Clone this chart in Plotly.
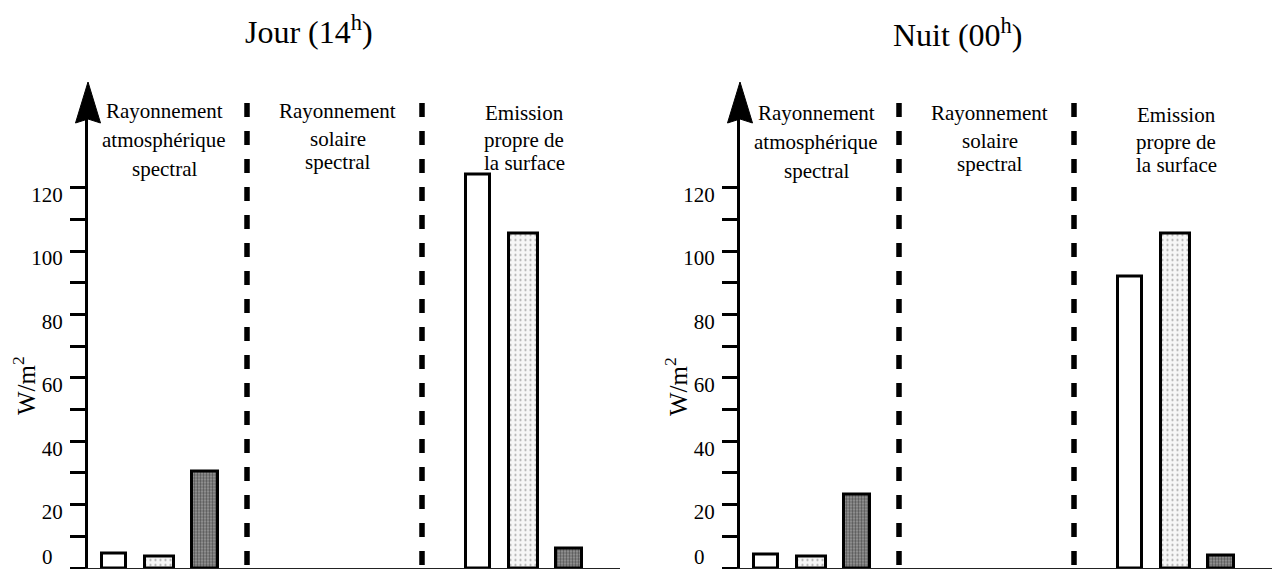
import plotly.graph_objects as go

W, H = 1282, 569

# bar slots: 3 bars per group, the solar group (slots 3..7) is empty
slots_atm = [0, 1, 2]
slots_surf = [8, 9, 10]
kinds = ["blanc", "clair", "sombre"]

day_atm = [4.5, 3.5, 30.5]
day_surf = [124, 105.5, 6.3]
night_atm = [4.4, 3.6, 23.3]
night_surf = [92, 105.5, 4.1]

titles = ["Jour (14<sup>h</sup>)", "Nuit (00<sup>h</sup>)"]
group_labels = [["Rayonnement", "atmosphérique", "spectral"],
                ["Rayonnement", "solaire", "spectral"],
                ["Emission", "propre de", "la surface"]]
y_tickvals = list(range(0, 130, 10))
y_ticktext = ["" if (v % 20 or v == 0) else str(v) for v in y_tickvals]
y_title = "W/m<sup>2</sup>"

SERIF = "Liberation Serif"


def px(x):
    return x / W


def py(y):
    return 1 - y / H


styles = {
    "blanc": dict(color="white"),
    "clair": dict(color="#f0f0f0",
                  pattern=dict(shape=".", fgcolor="#a0a0a0", bgcolor="#f6f6f6",
                               size=5, solidity=0.15, fillmode="replace")),
    "sombre": dict(color="#8a8a8a",
                   pattern=dict(shape=".", fgcolor="#555555", bgcolor="#a0a0a0",
                                size=3, solidity=0.5, fillmode="replace")),
}
widths = {"blanc": 0.53, "clair": 0.63, "sombre": 0.56}

panels = [
    dict(atm=day_atm, surf=day_surf, x0=88, xa="x", ya="y", title_xy=(309, 30), dy=0),
    dict(atm=night_atm, surf=night_surf, x0=740, xa="x2", ya="y2", title_xy=(958, 33), dy=2),
]

fig = go.Figure()
annotations = []
shapes = []

SLOT0, SLOTW = 26, 45.5   # px offset of slot 0 from the y axis, px per slot
PLOT_W = 532


def slot(off):
    return (off - SLOT0) / SLOTW


def label(text, x, y, size, **kw):
    return dict(text=text, x=px(x), y=py(y), xref="paper", yref="paper",
                xanchor="center", yanchor="middle", showarrow=False,
                font=dict(family=SERIF, size=size, color="black"), **kw)


for i, p in enumerate(panels):
    for k, kind in enumerate(kinds):
        fig.add_trace(go.Bar(
            x=[slots_atm[k], slots_surf[k]],
            y=[p["atm"][k], p["surf"][k]],
            width=widths[kind],
            marker=dict(line=dict(color="black", width=3), **styles[kind]),
            xaxis=p["xa"], yaxis=p["ya"], showlegend=False, hoverinfo="skip",
        ))

    x0 = p["x0"]
    sfx = "" if i == 0 else str(i + 1)
    fig.layout["xaxis" + sfx] = dict(
        domain=[px(x0), px(x0 + PLOT_W)], range=[slot(0), slot(PLOT_W)],
        anchor=p["ya"], showline=True, linecolor="#222", linewidth=2,
        showticklabels=False, ticks="", showgrid=False, zeroline=False)
    fig.layout["yaxis" + sfx] = dict(
        domain=[py(568), py(568 - 150 * 3.17)], range=[0, 150],
        anchor=p["xa"], showline=True, linecolor="black", linewidth=3,
        ticks="outside", ticklen=15, tickwidth=3, tickcolor="black",
        tickvals=y_tickvals, ticktext=y_ticktext,
        tickfont=dict(family=SERIF, size=21, color="black"),
        ticklabelshift=7, ticklabelstandoff=3,
        showgrid=False, zeroline=False)

    # arrow head on the y axis
    tip, base, notch = 82, 123, 119
    shapes.append(dict(
        type="path", xref="paper", yref="paper", fillcolor="black",
        line=dict(color="black", width=1),
        path=(f"M {px(x0)} {py(tip)} L {px(x0 - 12.5)} {py(base)} "
              f"L {px(x0)} {py(notch)} L {px(x0 + 12.5)} {py(base)} Z")))

    # dashed separators
    for off in (159, 334):
        shapes.append(dict(
            type="line", xref=p["xa"], yref="paper",
            x0=slot(off), x1=slot(off), y0=py(103), y1=py(568),
            line=dict(color="black", width=5.5, dash="14px,14px")))

    # panel title
    tx, ty = p["title_xy"]
    annotations.append(label(titles[i], tx, ty, 32))

    # group labels
    centers = [76, 250, 436]
    rows = [[111, 140, 169], [111, 139, 162], [113, 140, 163]]
    for g, lines in enumerate(group_labels):
        for r, line in enumerate(lines):
            annotations.append(label(line, x0 + centers[g], rows[g][r] + p["dy"], 21))

    # y axis title
    annotations.append(label(y_title, x0 - 64, 386, 25, textangle=-90))
    # "0" label sits above the baseline
    annotations.append(label("0", x0 - 41, 557, 21))

fig.update_layout(
    width=W, height=H, autosize=False,
    margin=dict(l=0, r=0, t=0, b=0),
    paper_bgcolor="white", plot_bgcolor="white",
    bargap=0, annotations=annotations, shapes=shapes,
)

fig.write_html("out.html", config={"displayModeBar": False},
               post_script="document.body.style.margin='0';")
